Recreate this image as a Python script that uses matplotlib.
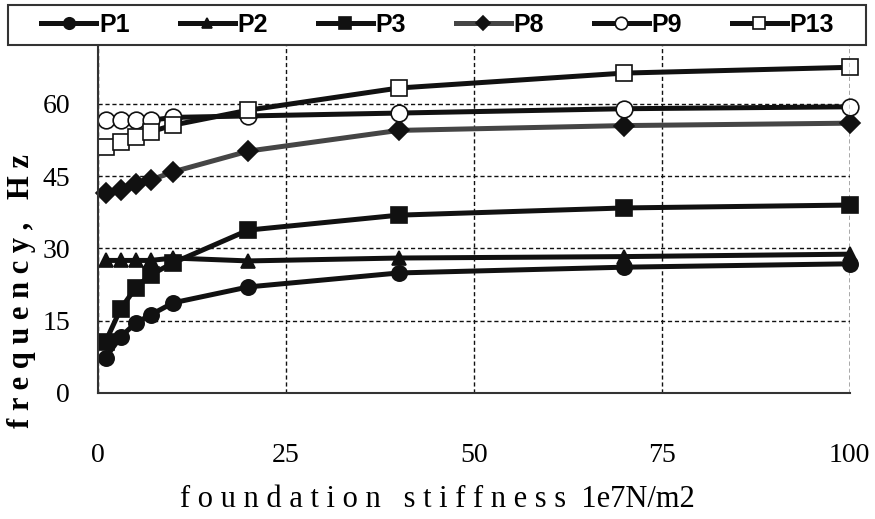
import matplotlib
matplotlib.use("Agg")
import numpy as np
from matplotlib import pyplot as plt
from matplotlib.patches import Rectangle

# foundation stiffness (1e7 N/m2)
stiffness = [1, 3, 5, 7, 10, 20, 40, 70, 100]

# frequencies, Hz
p1 = [7.3, 11.6, 14.5, 16.2, 18.7, 22.0, 24.9, 26.1, 26.8]
p2 = [27.5, 27.5, 27.5, 27.5, 28.0, 27.4, 28.0, 28.3, 28.8]
p3 = [10.6, 17.4, 21.8, 24.5, 27.0, 33.8, 36.9, 38.4, 39.0]
p8 = [41.5, 42.1, 43.4, 44.2, 45.9, 50.2, 54.5, 55.5, 56.0]
p9 = [56.6, 56.6, 56.6, 56.6, 57.2, 57.5, 58.1, 59.0, 59.4]
p13 = [51.0, 52.1, 53.1, 54.2, 55.6, 58.7, 63.3, 66.4, 67.6]

labels = ["P1", "P2", "P3", "P8", "P9", "P13"]
y_ticks = [0, 15, 30, 45, 60]
x_ticks = [0, 25, 50, 75, 100]

serif = ["Liberation Serif", "DejaVu Serif"]

fig = plt.figure(figsize=(8.75, 5.19), dpi=100)
ax = fig.add_axes([0.112, 0.243, 0.859, 0.670])

series = [p1, p2, p3, p8, p9, p13]
styles = [
    dict(color="#111111", marker="o", mfc="#111111", ms=11),
    dict(color="#111111", marker="^", mfc="#111111", ms=10),
    dict(color="#111111", marker="s", mfc="#111111", ms=11),
    dict(color="#454545", marker="D", mfc="#111111", mec="#111111", ms=10),
    dict(color="#111111", marker="o", mfc="white", mec="#111111", ms=12),
    dict(color="#111111", marker="s", mfc="white", mec="#111111", ms=12),
]
handles = []
for vals, lab, st in zip(series, labels, styles):
    h, = ax.plot(stiffness, vals, lw=3.6, mew=1.2, label=lab, clip_on=False, **st)
    handles.append(h)

ax.set_xlim(0, 100)
ax.set_ylim(0, 72.2)
ax.set_xticks(x_ticks)
ax.set_yticks(y_ticks)
ax.tick_params(length=0)
ax.tick_params(axis="x", pad=36)
ax.tick_params(axis="y", pad=20)
for t in ax.get_xticklabels() + ax.get_yticklabels():
    t.set_family(serif)
    t.set_fontsize(20)

ax.grid(True, color="#111111", ls=(0, (3, 2)), lw=1.0)
ax.axvline(100, color="#111111", ls=(0, (3, 2)), lw=1.0)
for s in ["top", "right"]:
    ax.spines[s].set_visible(False)
for s in ["left", "bottom"]:
    ax.spines[s].set_color("#333333")
    ax.spines[s].set_linewidth(1.5)

# legend box across the top
fig.patches.append(Rectangle((0.00914, 0.913), 0.981, 0.078, transform=fig.transFigure,
                             facecolor="white", edgecolor="#333333", lw=1.5, zorder=5))
leg = fig.legend(handles=handles, ncol=6, loc="center",
                 bbox_to_anchor=(0.5, 0.952), frameon=False,
                 handlelength=2.2, handletextpad=0.1, columnspacing=2.0,
                 markerscale=0.75, borderaxespad=0,
                 prop=dict(family=["Liberation Sans", "DejaVu Sans"],
                           weight="bold", size=18))
leg.set_zorder(6)

fig.text(0.50, 0.037, "f o u n d a t i o n   s t i f f n e s s  1e7N/m2",
         ha="center", va="center", family=serif, fontsize=22)
fig.text(0.025, 0.44, "f r e q u e n c y ,   H z", rotation=90,
         ha="center", va="center", family=serif, fontsize=22, weight="bold")

fig.savefig("out.png", dpi=100)
